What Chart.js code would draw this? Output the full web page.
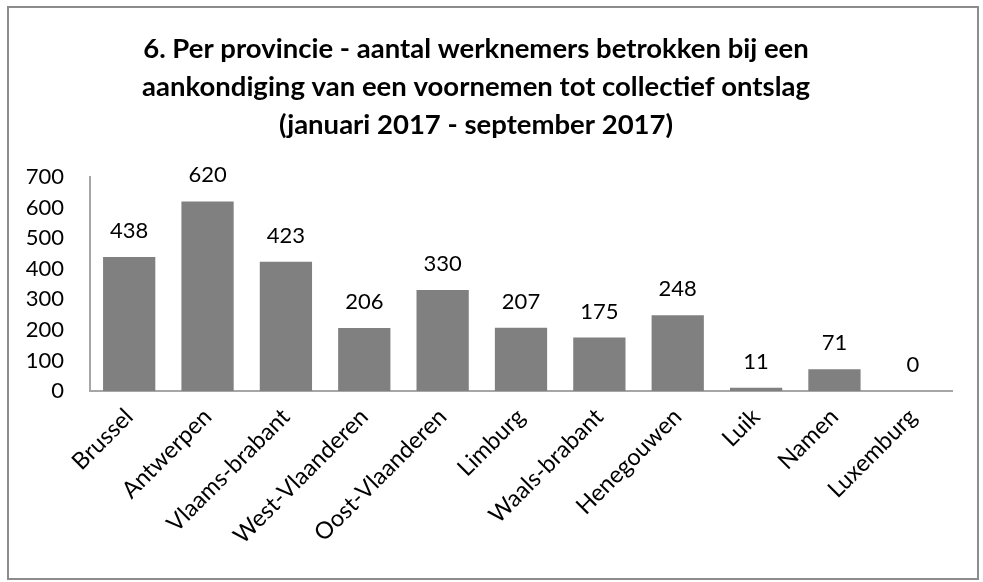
<!DOCTYPE html>
<html>
<head>
<meta charset="utf-8">
<script src="https://cdn.jsdelivr.net/npm/chart.js@4"></script>
<style>
  html, body { margin: 0; padding: 0; background: #fff; }
  #wrap { position: relative; width: 983px; height: 582px; }
  #frame {
    position: absolute; left: 7px; top: 6px; width: 972px; height: 574px;
    border: 2px solid #8c8c8c; box-sizing: border-box; pointer-events: none;
  }
</style>
</head>
<body>
<div id="wrap">
  <canvas id="chart" width="983" height="582"></canvas>
  <div id="frame"></div>
</div>
<script>
// ---- data ----
const provinces = ['Brussel', 'Antwerpen', 'Vlaams-brabant', 'West-Vlaanderen', 'Oost-Vlaanderen',
                   'Limburg', 'Waals-brabant', 'Henegouwen', 'Luik', 'Namen', 'Luxemburg'];
const workers   = [438, 620, 423, 206, 330, 207, 175, 248, 11, 71, 0];
const titleLines = ['6. Per provincie - aantal werknemers betrokken bij een',
                    'aankondiging van een voornemen tot collectief ontslag',
                    '(januari 2017 - september 2017)'];

const FONT = 'Lato, "Open Sans", sans-serif';

// value labels above the bars
const valueLabels = {
  id: 'valueLabels',
  afterDatasetsDraw(chart) {
    const ctx = chart.ctx;
    const meta = chart.getDatasetMeta(0);
    ctx.save();
    ctx.font = '22px ' + FONT;
    ctx.fillStyle = '#000';
    ctx.textAlign = 'center';
    ctx.textBaseline = 'alphabetic';
    meta.data.forEach((bar, i) => {
      ctx.fillText(String(workers[i]), bar.x, bar.y - 19);
    });
    ctx.restore();
  }
};

new Chart(document.getElementById('chart'), {
  type: 'bar',
  data: {
    labels: provinces,
    datasets: [{
      data: workers,
      backgroundColor: '#808080',
      barPercentage: 0.667,
      categoryPercentage: 1
    }]
  },
  options: {
    responsive: false,
    animation: false,
    layout: { padding: { left: 0, right: 31, top: 0, bottom: 0 } },
    plugins: {
      legend: { display: false },
      tooltip: { enabled: false },
      title: {
        display: true,
        text: titleLines,
        color: '#000',
        font: { family: FONT, size: 27.5, weight: 'bold', lineHeight: 38 / 27.5 },
        padding: { top: 30, bottom: 33 }
      }
    },
    scales: {
      x: {
        grid: { display: false, drawTicks: false },
        border: { display: true, color: '#a6a6a6', width: 2 },
        ticks: {
          color: '#000',
          font: { family: FONT, size: 23.5 },
          maxRotation: 45, minRotation: 45,
          padding: 12
        },
        afterFit(scale) { scale.height = 582 - 391; }
      },
      y: {
        min: 0, max: 700,
        grid: { display: false, drawTicks: false },
        border: { display: true, color: '#a6a6a6', width: 2 },
        ticks: {
          stepSize: 100,
          color: '#000',
          font: { family: FONT, size: 22 },
          padding: 26
        },
        afterFit(scale) { scale.width = 90; }
      }
    }
  },
  plugins: [valueLabels]
});
</script>
</body>
</html>
